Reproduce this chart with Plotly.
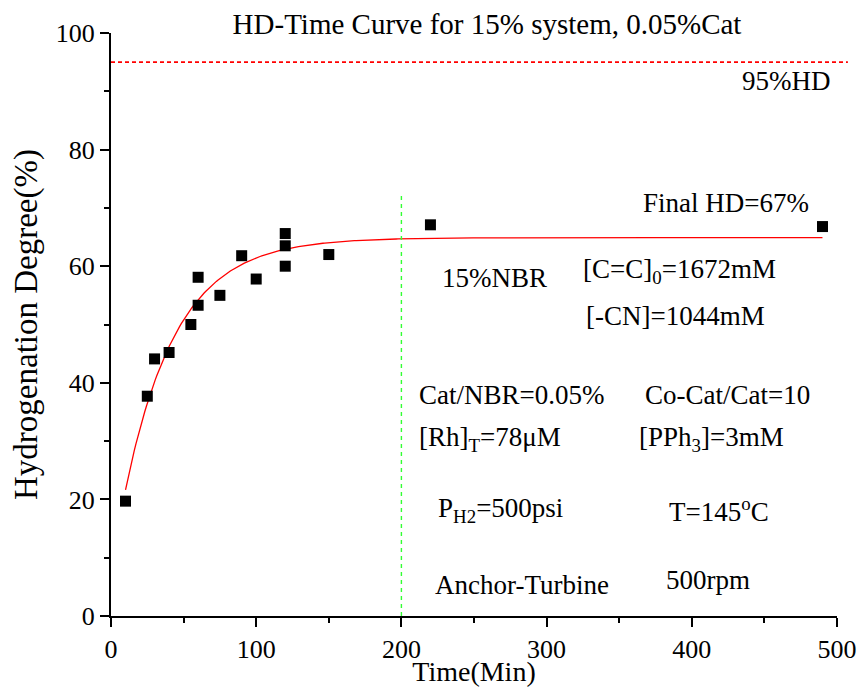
import numpy as np
import plotly.graph_objects as go

# Measured hydrogenation degree vs. reaction time
time_min = [10, 25, 30, 40, 55, 60, 60, 75, 90, 100, 120, 120, 120, 150, 220, 490]
hd_pct = [19.7, 37.7, 44.1, 45.2, 50.0, 53.3, 58.1, 55.0, 61.8, 57.8, 65.6, 63.5, 60.0, 62.0, 67.1, 66.8]

x_ticks = [0, 100, 200, 300, 400, 500]
y_ticks = [0, 20, 40, 60, 80, 100]
target_hd = 95
marker_time = 200

# First-order rise fit  y = A - B*exp(-k t), linear least squares for A, B over a k grid
t = np.array(time_min, float)
y = np.array(hd_pct, float)
best = None
for k in np.linspace(0.005, 0.1, 951):
    M = np.column_stack([np.ones_like(t), -np.exp(-k * t)])
    coef, *_ = np.linalg.lstsq(M, y, rcond=None)
    sse = float(np.sum((M @ coef - y) ** 2))
    if best is None or sse < best[0]:
        best = (sse, k, coef)
_, k_fit, (A_fit, B_fit) = best
t_fit = np.linspace(min(time_min), max(time_min), 400)
y_fit = A_fit - B_fit * np.exp(-k_fit * t_fit)

FONT = "Liberation Serif, Times New Roman, serif"

fig = go.Figure()
fig.add_trace(go.Scatter(x=t_fit, y=y_fit, mode="lines",
                         line=dict(color="#ff0000", width=1.3), hoverinfo="skip"))
fig.add_trace(go.Scatter(x=time_min, y=hd_pct, mode="markers",
                         marker=dict(symbol="square", size=11, color="black")))

# 95% HD reference and 200 min marker
fig.add_shape(type="line", xref="paper", x0=0, x1=1.015, yref="y", y0=target_hd, y1=target_hd,
              line=dict(color="#ff0000", width=1.6, dash="4px,3px"))
fig.add_shape(type="line", xref="x", x0=marker_time, x1=marker_time, yref="y", y0=0, y1=72.7,
              line=dict(color="#33ff33", width=1.4, dash="4px,4px"))

notes = [
    (0.995, 91.8, "95%HD", "right", "paper"),
    (423.8, 70.8, "Final HD=67%", "center", "x"),
    (264, 58.0, "15%NBR", "center", "x"),
    (324, 59.2, "[C=C]<sub>0</sub>=1672mM", "left", "x"),
    (326, 51.5, "[-CN]=1044mM", "left", "x"),
    (210.5, 37.9, "Cat/NBR=0.05%", "left", "x"),
    (366.5, 37.9, "Co-Cat/Cat=10", "left", "x"),
    (210.5, 30.4, "[Rh]<sub>T</sub>=78μM", "left", "x"),
    (362.5, 30.4, "[PPh<sub>3</sub>]=3mM", "left", "x"),
    (224, 18.2, "P<sub>H2</sub>=500psi", "left", "x"),
    (383, 18.2, "T=145<sup>o</sup>C", "left", "x"),
    (221.5, 5.3, "Anchor-Turbine", "left", "x"),
    (381, 6.2, "500rpm", "left", "x"),
]
for xv, yv, txt, anchor, xr in notes:
    fig.add_annotation(x=xv, y=yv, xref=xr, yref="y", text=txt, showarrow=False,
                       xanchor=anchor, yanchor="middle",
                       font=dict(family=FONT, size=27, color="black"))

axis_common = dict(showline=True, linecolor="black", linewidth=2, ticks="outside",
                   ticklen=9, tickwidth=2, tickcolor="black", showgrid=False, zeroline=False,
                   tickfont=dict(family=FONT, size=26, color="black"), mirror=False,
                   automargin=False)

fig.update_xaxes(range=[0, 500], tickvals=x_ticks,
                 title=dict(text="Time(Min)", font=dict(family=FONT, size=28, color="black"),
                            standoff=0),
                 minor=dict(dtick=50, ticks="outside", ticklen=5, tickwidth=2, tickcolor="black"),
                 **axis_common)
fig.update_yaxes(range=[0, 100], tickvals=y_ticks,
                 title=dict(text="Hydrogenation Degree(%)",
                            font=dict(family=FONT, size=33, color="black"), standoff=8),
                 minor=dict(dtick=10, ticks="outside", ticklen=5, tickwidth=2, tickcolor="black"),
                 **axis_common)

fig.update_layout(
    width=862, height=687,
    margin=dict(l=111, r=25, t=33, b=71),
    paper_bgcolor="white", plot_bgcolor="white",
    showlegend=False,
    title=dict(text="HD-Time Curve for 15% system, 0.05%Cat", x=0.565, xanchor="center",
               y=0.965, yanchor="middle", yref="container",
               font=dict(family=FONT, size=29, color="black")),
)

fig.write_html("out.html")
